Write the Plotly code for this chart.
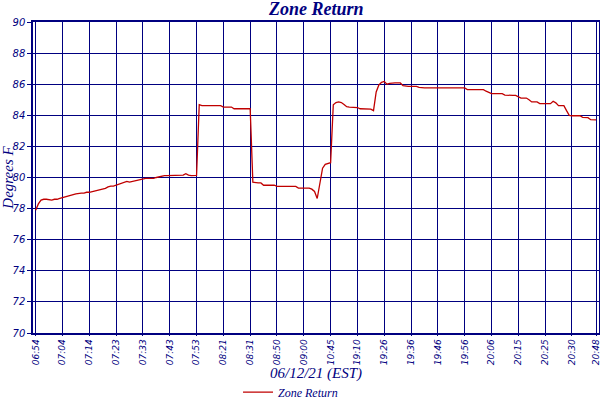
import plotly.graph_objects as go

# sample index -> reading (one reading per sample, ticks every 10 samples)
tick_labels = ["06:54", "07:04", "07:14", "07:23", "07:33", "07:43", "07:53", "08:21",
               "08:31", "08:50", "09:00", "10:45", "19:10", "19:26", "19:36", "19:46",
               "19:56", "20:06", "20:15", "20:25", "20:30", "20:48"]
tick_samples = [0, 10, 20, 30, 40, 50, 60, 70, 80, 90, 100, 110, 120, 130, 140, 150,
                160, 170, 180, 190, 200, 209]

zone_return = [
    77.9, 78.3, 78.55, 78.6, 78.6, 78.55, 78.55, 78.6, 78.6, 78.65,
    78.7, 78.75, 78.85, 78.9, 78.9, 78.95, 79.0, 79.0, 79.0, 79.05,
    79.05, 79.1, 79.15, 79.2, 79.2, 79.25, 79.3, 79.4, 79.45, 79.45,
    79.5, 79.55, 79.6, 79.7, 79.75, 79.7, 79.75, 79.8, 79.8, 79.85,
    79.9, 79.95, 79.95, 79.95, 79.95, 80.0, 80.05, 80.1, 80.12, 80.12,
    80.12, 80.12, 80.12, 80.12, 80.12, 80.15, 80.24, 80.15, 80.12, 80.14,
    80.14, 84.68, 84.62, 84.62, 84.62, 84.62, 84.62, 84.62, 84.62, 84.62,
    84.53, 84.53, 84.53, 84.53, 84.42, 84.42, 84.46, 84.46, 84.42, 84.42,
    84.42, 79.7, 79.65, 79.65, 79.65, 79.5, 79.5, 79.5, 79.5, 79.5,
    79.43, 79.43, 79.43, 79.43, 79.43, 79.43, 79.43, 79.43, 79.32, 79.32,
    79.32, 79.32, 79.32, 79.25, 79.1, 78.65, 79.6, 80.6, 80.85, 80.89,
    80.95, 84.68, 84.82, 84.86, 84.82, 84.7, 84.55, 84.53, 84.53, 84.53,
    84.5, 84.42, 84.42, 84.42, 84.4, 84.4, 84.3, 85.5, 85.95, 86.12,
    86.18, 86.0, 86.05, 86.08, 86.08, 86.08, 86.08, 85.9, 85.86, 85.86,
    85.86, 85.86, 85.86, 85.8, 85.76, 85.76, 85.76, 85.76, 85.76, 85.76,
    85.76, 85.76, 85.76, 85.76, 85.76, 85.76, 85.76, 85.76, 85.76, 85.76,
    85.76, 85.65, 85.65, 85.65, 85.65, 85.65, 85.65, 85.65, 85.55, 85.45,
    85.39, 85.39, 85.39, 85.39, 85.39, 85.3, 85.28, 85.28, 85.28, 85.28,
    85.2, 85.11, 85.11, 85.11, 85.0, 84.86, 84.86, 84.86, 84.75, 84.75,
    84.75, 84.75, 84.75, 84.9, 84.8, 84.62, 84.62, 84.62, 84.3, 84.0,
    83.97, 83.97, 83.97, 83.97, 83.87, 83.87, 83.85, 83.72, 83.72, 83.7,
]

navy = "#000080"
serif = "Liberation Serif"
sans = "DejaVu Sans"

fig = go.Figure()
fig.add_trace(go.Scatter(
    x=list(range(len(zone_return))), y=zone_return,
    mode="lines", name="Zone Return",
    line=dict(color="#c00000", width=1.3),
))

fig.update_layout(
    width=600, height=400,
    margin=dict(l=33, r=1, t=22, b=67, autoexpand=False),
    paper_bgcolor="white", plot_bgcolor="white",
    title=dict(text="Zone Return", x=0.527, xanchor="center", y=0.995, yanchor="top",
               font=dict(family=serif, size=18, color=navy, style="italic", weight="bold")),
    showlegend=True,
    legend=dict(orientation="h", x=0.455, xanchor="center", y=-0.19, yanchor="middle",
                font=dict(family=serif, size=12, color=navy, style="italic"),
                itemwidth=30, bgcolor="rgba(0,0,0,0)"),
)

# x-axis title as an annotation so it sits just under the rotated time labels
fig.add_annotation(text="06/12/21 (EST)", xref="paper", yref="paper",
                   x=0.5, y=-0.131, xanchor="center", yanchor="middle", showarrow=False,
                   font=dict(family=serif, size=15, color=navy, style="italic"))

fig.update_xaxes(
    automargin=False, ticklabeloverflow="allow",
    range=[-1, 210.1], tickmode="array", tickvals=tick_samples, ticktext=tick_labels,
    tickangle=-90, tickfont=dict(family=sans, size=9, color=navy, style="italic"),
    showgrid=True, gridcolor=navy, gridwidth=1,
    showline=True, linecolor=navy, linewidth=1.5, mirror=True,
    ticks="outside", ticklen=1, tickcolor=navy, zeroline=False,
)
fig.update_yaxes(
    automargin=False,
    range=[70, 90], dtick=2,
    tickfont=dict(family=sans, size=10, color=navy, style="italic"),
    showgrid=True, gridcolor=navy, gridwidth=1,
    showline=True, linecolor=navy, linewidth=1.5, mirror=True,
    ticks="outside", ticklen=4, tickcolor=navy, zeroline=False,
    title=dict(text="Degrees F",
               font=dict(family=serif, size=15, color=navy, style="italic")),
)

# drop the browser's default page margin so the figure sits at the window corner
fig.write_html("out.html", config={"displayModeBar": False},
               post_script="document.body.style.margin='0';")
